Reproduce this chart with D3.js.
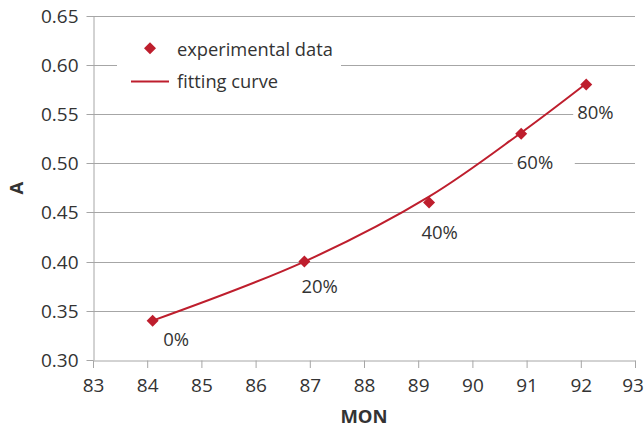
<!DOCTYPE html>
<html><head><meta charset="utf-8">
<script src="https://cdn.jsdelivr.net/npm/d3@7"></script>
<style>
html,body{margin:0;padding:0;background:#fff;}
svg{display:block;font-family:"Open Sans",sans-serif;}
</style></head>
<body><svg id="c" width="644" height="428"></svg>
<script>
// ---- data ----
const monValues = [84.1, 86.9, 89.2, 90.9, 92.1];
const aValues = [0.34, 0.40, 0.46, 0.53, 0.58];
const pointLabels = ["0%", "20%", "40%", "60%", "80%"];
const fitMon = [84.1, 86.9, 89.2, 90.9, 92.1];
const fitA = [0.340, 0.400, 0.466, 0.531, 0.581];
const xTicks = [83, 84, 85, 86, 87, 88, 89, 90, 91, 92, 93];
const yTicks = [0.30, 0.35, 0.40, 0.45, 0.50, 0.55, 0.60, 0.65];
const seriesNames = ["experimental data", "fitting curve"];
const xTitle = "MON";
const yTitle = "A";

// ---- layout ----
const red = "#BE1E2D", grid = "#a6a6a6", txt = "#333333";
const svg = d3.select("#c");
const x = d3.scaleLinear().domain([83, 93]).range([93, 635]);
const y = d3.scaleLinear().domain([0.30, 0.65]).range([360, 15.6]);
// label offsets (text start x / baseline relative to marker)
const labelOffsets = [[10.6, 25], [-3, 31.6], [-7.6, 36], [-4.4, 35.3], [-9, 34.3]];

// gridlines
svg.append("g").selectAll("line").data(yTicks.slice(1)).join("line")
  .attr("x1", x.range()[0]).attr("x2", x.range()[1])
  .attr("y1", d => Math.round(y(d)) + 0.5).attr("y2", d => Math.round(y(d)) + 0.5)
  .attr("stroke", grid).attr("stroke-width", 1);

// y axis
const yAxis = svg.append("g").attr("transform", `translate(${Math.round(x.range()[0]) + 0.5},0)`)
  .call(d3.axisLeft(y).tickValues(yTicks).tickFormat(d3.format(".2f")).tickSize(7).tickPadding(8)
    .tickSizeOuter(0));
// x axis
const xAxis = svg.append("g").attr("transform", `translate(0,${Math.round(y.range()[0]) + 0.5})`)
  .call(d3.axisBottom(x).tickValues(xTicks).tickFormat(d3.format("d")).tickSize(7.5).tickPadding(10.5)
    .tickSizeOuter(0));
[yAxis, xAxis].forEach(a => {
  a.select(".domain").attr("stroke", grid);
  a.selectAll(".tick line").attr("stroke", grid);
  a.selectAll(".tick text").attr("fill", txt).style("font-size", "19px").style("font-family", "'Open Sans',sans-serif");
});
yAxis.selectAll(".tick").attr("transform", d => `translate(0,${Math.round(y(d)) + 0.5})`);
// keep the last x label inside the picture
xAxis.selectAll(".tick text").filter(d => d === xTicks[xTicks.length - 1]).attr("dx", "-2.5");

// label background boxes
const pts = monValues.map((m, i) => ({ m, a: aValues[i], label: pointLabels[i], off: labelOffsets[i] }));
svg.append("g").selectAll("rect").data(pts.filter(p => p.off[1] > 33)).join("rect")
  .attr("x", p => x(p.m) + p.off[0] - 4)
  .attr("y", p => y(p.a) + p.off[1] - 25.6)
  .attr("width", 62).attr("height", 32)
  .attr("fill", "#fff");

// fitting curve
const line = d3.line().x((d, i) => x(fitMon[i])).y(d => y(d)).curve(d3.curveCatmullRom.alpha(0.5));
svg.append("path").datum(fitA).attr("d", line)
  .attr("fill", "none").attr("stroke", red).attr("stroke-width", 2);

// markers
const diamond = s => `M0,${-s}L${s},0L0,${s}L${-s},0Z`;
svg.append("g").selectAll("path").data(pts).join("path")
  .attr("transform", p => `translate(${x(p.m)},${y(p.a)})`)
  .attr("d", diamond(6)).attr("fill", red);

// labels
svg.append("g").selectAll("text").data(pts).join("text")
  .attr("x", p => x(p.m) + p.off[0]).attr("y", p => y(p.a) + p.off[1])
  .attr("fill", txt).style("font-size", "18.5px").text(p => p.label);

// legend
const lg = svg.append("g");
lg.append("rect").attr("x", 117).attr("y", 32).attr("width", 224).attr("height", 68).attr("fill", "#fff");
lg.append("path").attr("transform", "translate(150,48.3)").attr("d", diamond(6)).attr("fill", red);
lg.append("line").attr("x1", 131).attr("x2", 169).attr("y1", 81.5).attr("y2", 81.5)
  .attr("stroke", red).attr("stroke-width", 2);
lg.append("text").attr("x", 177).attr("y", 56).attr("fill", txt).style("font-size", "18.3px").text(seriesNames[0]);
lg.append("text").attr("x", 177).attr("y", 88).attr("fill", txt).style("font-size", "18.3px").text(seriesNames[1]);

// axis titles
svg.append("text").attr("x", 364).attr("y", 423).attr("text-anchor", "middle")
  .attr("fill", txt).style("font-size", "18.5px").style("font-weight", "bold").text(xTitle);
svg.append("text").attr("transform", "translate(23,188) rotate(-90)").attr("text-anchor", "middle")
  .attr("fill", txt).style("font-size", "18.5px").style("font-weight", "bold").text(yTitle);
</script></body></html>
